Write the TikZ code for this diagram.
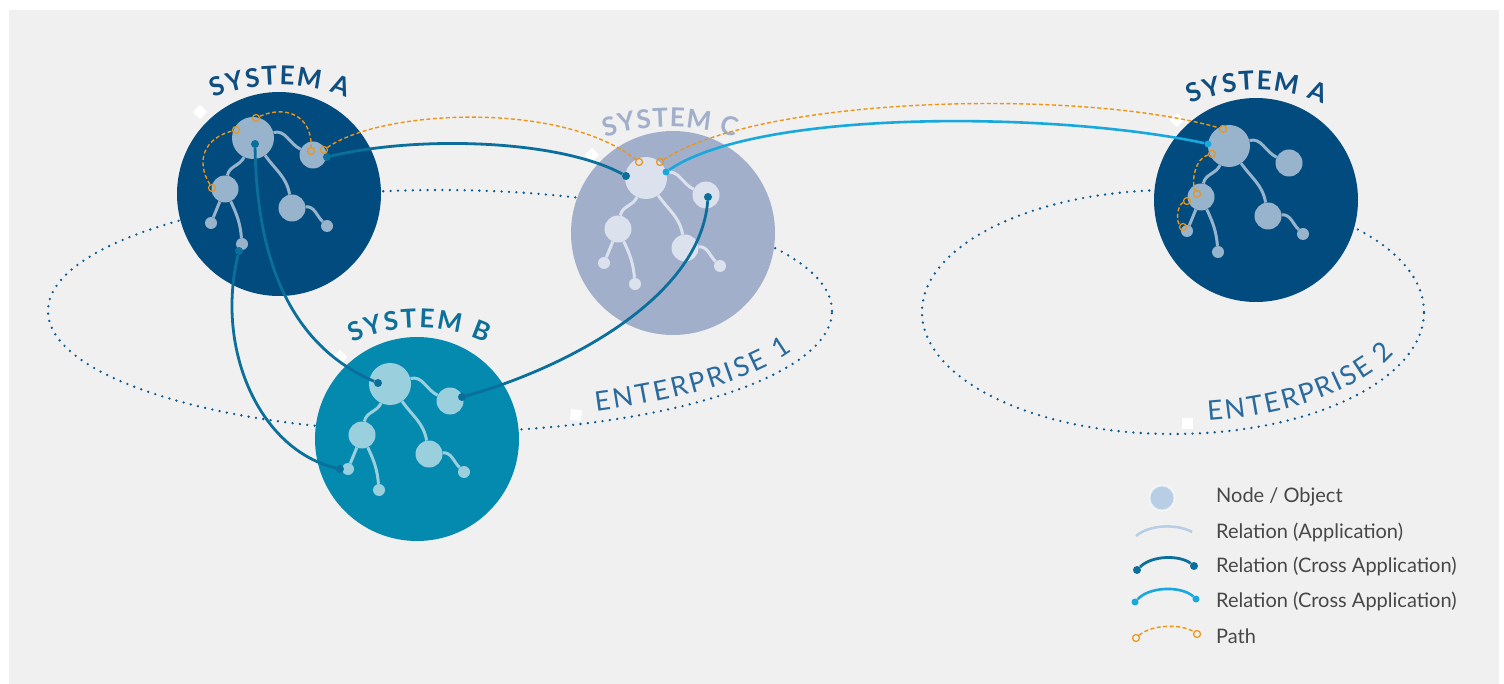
\documentclass[tikz,border=0pt]{standalone}
\usepackage{fontspec}
\setmainfont{Lato}
\usetikzlibrary{decorations.text,calc}
\definecolor{bg}{HTML}{F0F0F0}
\definecolor{sysA}{HTML}{014B7E}
\definecolor{sysAn}{HTML}{98B4CC}
\definecolor{sysC}{HTML}{A1AFCB}
\definecolor{sysCn}{HTML}{DCE1EE}
\definecolor{sysB}{HTML}{0489AF}
\definecolor{sysBn}{HTML}{9ACFDE}
\definecolor{cross}{HTML}{0A6F9B}
\definecolor{crossl}{HTML}{17A8DE}
\definecolor{pathor}{HTML}{EE9414}
\definecolor{dotc}{HTML}{0B5A92}
\definecolor{entc}{HTML}{2A6A9C}
\definecolor{titA}{HTML}{0F4E80}
\definecolor{titB}{HTML}{0C7099}
\definecolor{titC}{HTML}{A1AFCB}
\definecolor{legtxt}{HTML}{474747}
\definecolor{legnode}{HTML}{B7CEE4}
\newcommand\systree[4]{%
 \node[tn,minimum size=42pt,fill=#4] (#1big) at (#2,#3) {};
 \node[tn,minimum size=27pt,fill=#4] (#1r) at ([shift={(60,-17)}]#1big.center) {};
 \node[tn,minimum size=27pt,fill=#4] (#1l) at ([shift={(-28,-51)}]#1big.center) {};
 \node[tn,minimum size=27pt,fill=#4] (#1m) at ([shift={(39,-70)}]#1big.center) {};
 \node[tn,minimum size=12pt,fill=#4] (#1ll) at ([shift={(-42,-85)}]#1big.center) {};
 \node[tn,minimum size=12pt,fill=#4] (#1lb) at ([shift={(-11,-106)}]#1big.center) {};
 \node[tn,minimum size=12pt,fill=#4] (#1lr) at ([shift={(74,-88)}]#1big.center) {};
 \draw[te,draw=#4] (#1big) to[out=15,in=155] (#1r);
 \draw[te,draw=#4] (#1big) to[out=-115,in=80] (#1l);
 \draw[te,draw=#4] (#1big) to[out=-55,in=100] (#1m);
 \draw[te,draw=#4] (#1l) -- (#1ll);
 \draw[te,draw=#4] (#1l) to[out=-65,in=95] (#1lb);
 \draw[te,draw=#4] (#1m) to[out=5,in=135] (#1lr);
}
\begin{document}
\begin{tikzpicture}[x=1pt,y=1pt,
 tn/.style={circle,inner sep=0pt},
 te/.style={line width=3pt},
 syscirc/.style={circle,inner sep=0pt,minimum size=204pt},
 cdot/.style={circle,fill=cross,inner sep=0pt,minimum size=8pt},
 ldot/.style={circle,fill=crossl,inner sep=0pt,minimum size=7pt},
 crossrel/.style={draw=cross,line width=2.8pt},
 crossrell/.style={draw=crossl,line width=2.6pt},
 pmark/.style={circle,draw=pathor,line width=1.2pt,inner sep=0pt,minimum size=7pt},
 pathline/.style={draw=pathor,line width=1.4pt,dash pattern=on 4pt off 2.5pt},
 entline/.style={draw=dotc,line width=2.6pt,line cap=round,dash pattern=on 0pt off 7.4pt},
 wmark/.style={fill=white,inner sep=0pt,minimum size=10pt},
 legtext/.style={anchor=west,text=legtxt,font=\fontsize{20}{24}\selectfont,inner sep=0pt}]
\useasboundingbox (0,0) rectangle (1504,-684);
\fill[white] (0,0) rectangle (1504,-684);
\fill[bg] (9,-10) rectangle (1499,-684);
% enterprises
\draw[entline] (440,-311) ellipse[x radius=392, y radius=121];
\draw[entline] (1173,-312) ellipse[x radius=251, y radius=122];
\path[decorate,decoration={text along path,text align=fit to path,text color=entc,
  text={|\fontsize{27}{27}\selectfont|ENTERPRISE 1}}]
  ([shift={(-65.6:378 and 110)}]440,-311) arc[start angle=-65.6,end angle=-21.4,x radius=378,y radius=110];
\path[decorate,decoration={text along path,text align=fit to path,text color=entc,
  text={|\fontsize{27}{27}\selectfont|ENTERPRISE 2}}]
  ([shift={(-81.5:238 and 110)}]1173,-312) arc[start angle=-81.5,end angle=-21.8,x radius=238,y radius=110];
% white markers
\node[wmark,rotate=45] (w1) at (200,-112) {};
\node[wmark,rotate=45] (w2) at (592,-155) {};
\node[wmark,rotate=45] (w3) at (340,-357) {};
\node[wmark,rotate=45] (w4) at (1177,-120) {};
\node[wmark,minimum size=11pt,rotate=-8] (w5) at (576,-415) {};
\node[wmark,minimum size=11pt] (w6) at (1187,-423) {};
% systems
\node[syscirc,fill=sysA] (sA) at (279,-194) {};
\node[syscirc,fill=sysC] (sC) at (673,-233) {};
\node[syscirc,fill=sysB] (sB) at (417,-439) {};
\node[syscirc,fill=sysA] (sA2) at (1256,-200) {};
\systree{a}{253}{-138}{sysAn}
\systree{c}{646}{-178}{sysCn}
\systree{b}{390}{-384}{sysBn}
\systree{e}{1229}{-146}{sysAn}
% titles
\path[decorate,decoration={text along path,text align=fit to path,text color=titA,
  text={|\bfseries\fontsize{26}{26}\selectfont|SYSTEM A}}]
  ([shift={(112.2:175)}]280,-260) arc[start angle=112.2,end angle=67.8,radius=175];
\path[decorate,decoration={text along path,text align=fit to path,text color=titC,
  text={|\bfseries\fontsize{26}{26}\selectfont|SYSTEM C}}]
  ([shift={(108:210)}]670,-337) arc[start angle=108,end angle=72,radius=210];
\path[decorate,decoration={text along path,text align=fit to path,text color=titB,
  text={|\bfseries\fontsize{26}{26}\selectfont|SYSTEM B}}]
  ([shift={(114.4:162)}]419,-490) arc[start angle=114.4,end angle=65.6,radius=162];
\path[decorate,decoration={text along path,text align=fit to path,text color=titA,
  text={|\bfseries\fontsize{26}{26}\selectfont|SYSTEM A}}]
  ([shift={(113.9:163)}]1257,-253) arc[start angle=113.9,end angle=66.1,radius=163];
% cross relations
\node[cdot] (d1s) at (327,-157) {};
\node[cdot] (d1e) at (626,-176) {};
\node[cdot] (d2s) at (255,-144) {};
\node[cdot] (d2e) at (378,-383) {};
\node[cdot] (d3s) at (239,-251) {};
\node[cdot] (d3e) at (340,-469) {};
\node[cdot] (d4s) at (462,-397) {};
\node[cdot] (d4e) at (708,-197) {};
\node[ldot] (d5s) at (666,-172) {};
\node[ldot] (d5e) at (1208,-144) {};
\draw[crossrel] (d1s) .. controls (420,-135) and (560,-140) .. (d1e);
\draw[crossrel] (d2s) .. controls (257,-260) and (290,-345) .. (d2e);
\draw[crossrel] (d3s) .. controls (215,-350) and (260,-450) .. (d3e);
\draw[crossrel] (d4s) .. controls (560,-370) and (700,-300) .. (d4e);
\draw[crossrell] (d5s) .. controls (760,-108) and (1060,-112) .. (d5e);
% paths
\node[pmark] (o1) at (212,-188) {};
\node[pmark] (o2) at (236,-130) {};
\node[pmark] (o3) at (256,-118) {};
\node[pmark] (o4) at (311,-151) {};
\node[pmark] (o5) at (324,-150) {};
\node[pmark] (o6) at (639,-162) {};
\node[pmark] (o7) at (660,-162) {};
\node[pmark] (o8) at (1223,-129) {};
\node[pmark] (o9) at (1212,-154) {};
\node[pmark] (o10) at (1197,-194) {};
\node[pmark] (o11) at (1187,-201) {};
\node[pmark] (o12) at (1183,-227) {};
\draw[pathline] (o1) .. controls (195,-160) and (205,-138) .. (o2);
\draw[pathline] (o3) .. controls (285,-105) and (312,-115) .. (o4);
\draw[pathline] (o5) .. controls (380,-110) and (560,-100) .. (o6);
\draw[pathline] (o7) .. controls (760,-96) and (1080,-88) .. (o8);
\draw[pathline] (o9) .. controls (1195,-158) and (1191,-182) .. (o10);
\draw[pathline] (o11) .. controls (1177,-205) and (1176,-222) .. (o12);
% legend
\node[tn,minimum size=25pt,fill=legnode,draw=white,draw opacity=.6,line width=2pt] (lgnode) at (1162,-498) {};
\coordinate (lg2a) at (1136,-536);
\coordinate (lg2b) at (1192,-532);
\draw[line width=2.5pt,draw=legnode] (lg2a) .. controls (1150,-524) and (1178,-524) .. (lg2b);
\node[cdot] (lg3a) at (1137,-570) {};
\node[cdot] (lg3b) at (1194,-566) {};
\draw[crossrel] (lg3a) .. controls (1152,-555) and (1180,-555) .. (lg3b);
\node[ldot] (lg4a) at (1135,-602) {};
\node[ldot] (lg4b) at (1196,-599) {};
\draw[crossrell] (lg4a) .. controls (1150,-586) and (1182,-586) .. (lg4b);
\node[pmark] (lg5a) at (1136,-638) {};
\node[pmark] (lg5b) at (1197,-634) {};
\draw[pathline] (lg5a) .. controls (1152,-624) and (1182,-624) .. (lg5b);
\node[legtext] (t1) at (1216,-497) {Node / Object};
\node[legtext] (t2) at (1216,-532) {Relation (Application)};
\node[legtext] (t3) at (1216,-566) {Relation (Cross Application)};
\node[legtext] (t4) at (1216,-601) {Relation (Cross Application)};
\node[legtext] (t5) at (1216,-636) {Path};
\end{tikzpicture}
\end{document}
